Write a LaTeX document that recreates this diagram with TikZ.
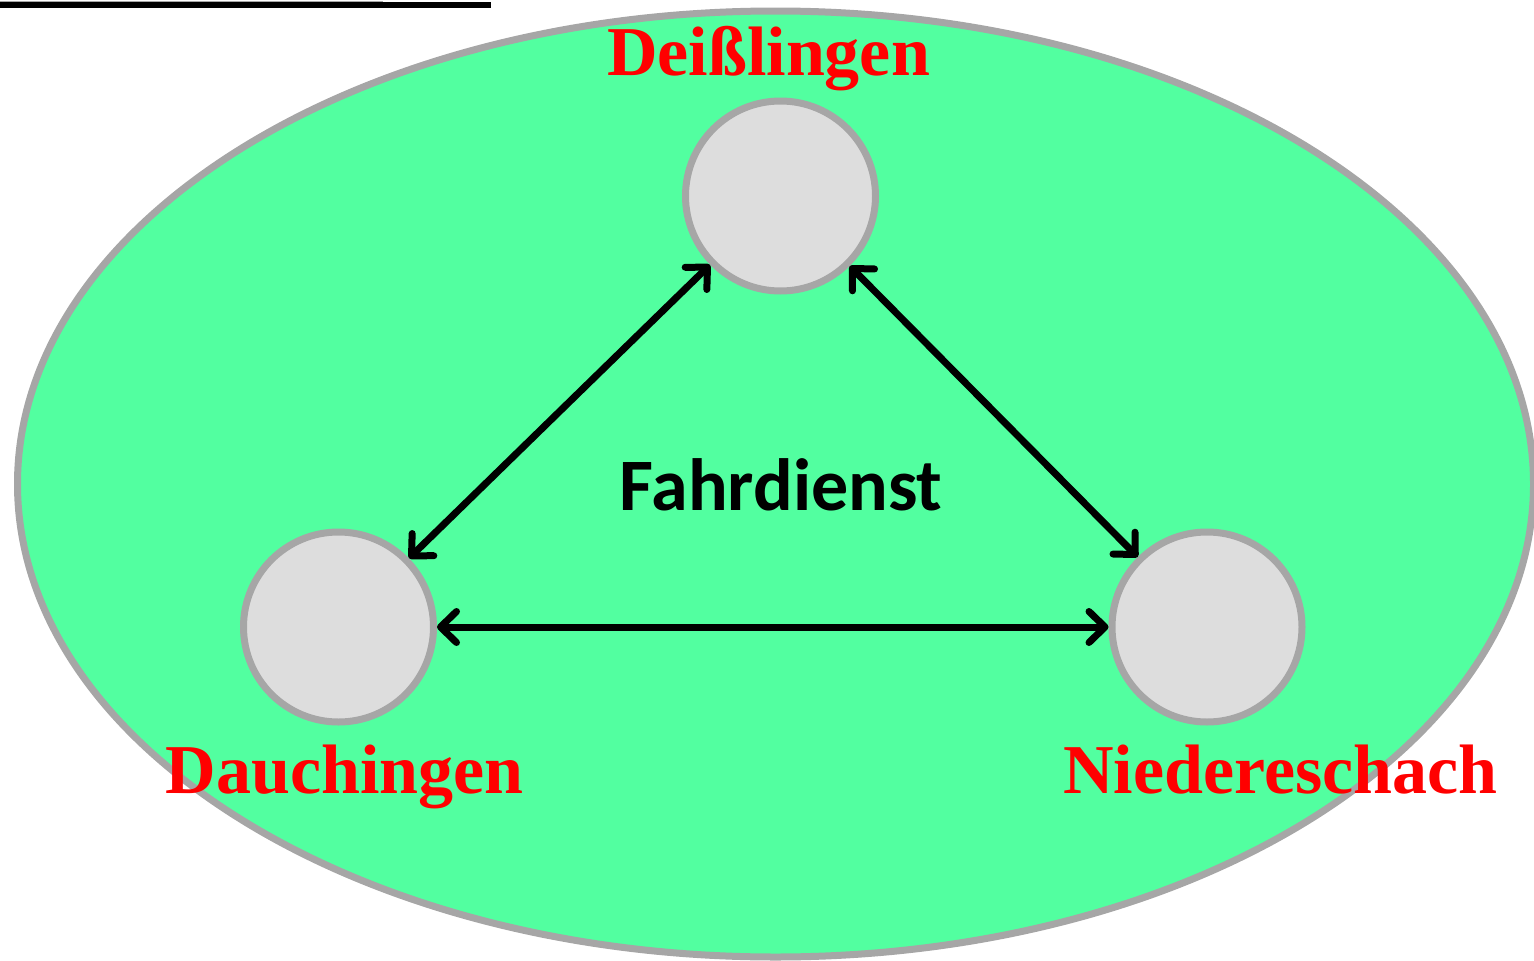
\documentclass[tikz,border=0pt]{standalone}
\usepackage{fontspec}
\usetikzlibrary{arrows.meta}
\newfontfamily\placefont{Liberation Serif}
\newfontfamily\mainlblfont{Carlito}
\definecolor{areagreen}{RGB}{82,255,160}
\definecolor{edgegrey}{RGB}{166,166,166}
\definecolor{circfill}{RGB}{221,221,221}
\definecolor{placered}{RGB}{255,0,0}
\tikzset{
  town/.style={circle, draw=edgegrey, fill=circfill, line width=7pt, minimum size=190pt, inner sep=0pt},
  placelabel/.style={anchor=base, inner sep=0pt, text=placered, font=\placefont\bfseries\fontsize{70}{70}\selectfont},
  barb/.tip={Straight Barb[length=16pt,width=31pt,line width=7pt,round]},
  link/.style={draw=black, line width=7pt, barb-barb}
}
\begin{document}
\begin{tikzpicture}[x=1pt,y=-1pt]
\useasboundingbox (0,0) rectangle (1534,961);
% top rule
\draw[line width=6pt, black] (0,4.5) -- (491,4.5);
\draw[line width=1pt, edgegrey] (0,1.8) -- (383,1.8);
% area
\draw[fill=areagreen, draw=edgegrey, line width=7pt] (775.5,484) ellipse [x radius=758, y radius=473];
% towns
\node[town] (D) at (780.5,196) {};
\node[town] (A) at (338.5,627) {};
\node[town] (N) at (1207,627) {};
% links
\draw[link] (D) -- (A);
\draw[link] (D) -- (N);
\draw[link] (A) -- (N);
% labels
\node[placelabel] (lD) at (768.5,75) {Deißlingen};
\node[placelabel] (lA) at (344.5,793) {Dauchingen};
\node[placelabel] (lN) at (1280.5,793) {Niedereschach};
\node[anchor=base, inner sep=0pt, font=\mainlblfont\bfseries\fontsize{74}{74}\selectfont] (F) at (781,510) {Fahrdienst};
\end{tikzpicture}
\end{document}
